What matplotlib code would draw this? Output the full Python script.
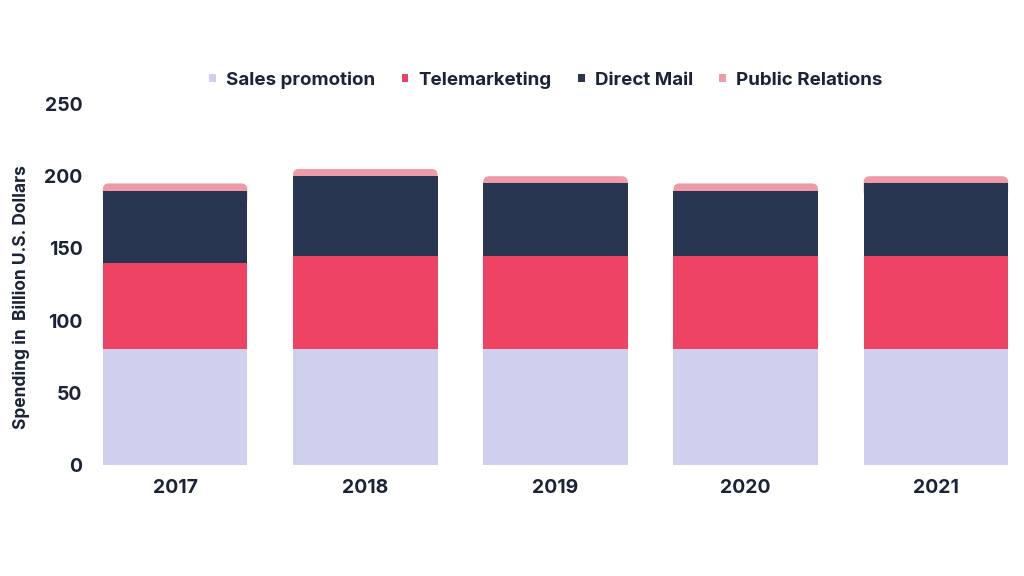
import matplotlib.pyplot as plt
from matplotlib.patches import FancyBboxPatch, Patch
import numpy as np

plt.rcParams['font.family'] = ['Inter', 'DejaVu Sans']

years = ['2017', '2018', '2019', '2020', '2021']
sales_promotion = [80, 80, 80, 80, 80]
telemarketing = [60, 65, 65, 65, 65]
direct_mail = [50, 55, 50, 45, 50]
public_relations = [5, 5, 5, 5, 5]

series = [
    ('Sales promotion', sales_promotion, '#cfcfee'),
    ('Telemarketing', telemarketing, '#ec4462'),
    ('Direct Mail', direct_mail, '#283651'),
    ('Public Relations', public_relations, '#ee9aa8'),
]
text_color = '#1b2338'

fig = plt.figure(figsize=(10.24, 5.76), dpi=100)
ax = fig.add_axes([99 / 1024, 1 - 465 / 576, (1012 - 99) / 1024, (465 - 104) / 576])

x = np.arange(len(years))
bottom = np.zeros(len(years))
bars = []
for name, vals, color in series:
    b = ax.bar(x, vals, width=0.76, bottom=bottom, color=color, label=name,
               linewidth=0, zorder=3)
    bars.append(b)
    bottom += np.array(vals)

ax.set_xlim(-0.4, 4.4)
ax.set_ylim(0, 250)

# round the top corners of the last segment: swap each rect for a rounded box
# that reaches down behind the segment below
ppx = ax.get_window_extent().width / 4.8
ppy = ax.get_window_extent().height / 250
for rect in bars[-1]:
    rect.set_visible(False)
    ext = 10
    box = FancyBboxPatch((rect.get_x(), rect.get_y() - ext), rect.get_width(),
                         rect.get_height() + ext,
                         boxstyle='round,pad=0,rounding_size=%f' % (6 / ppx),
                         mutation_aspect=ppx / ppy,
                         facecolor=rect.get_facecolor(), linewidth=0, zorder=2)
    ax.add_patch(box)

ax.set_yticks([0, 50, 100, 150, 200, 250])
ax.set_xticks(x)
ax.set_xticklabels(years)
for s in ax.spines.values():
    s.set_visible(False)
ax.tick_params(axis='both', length=0, labelsize=14, labelcolor=text_color)
ax.tick_params(axis='y', pad=12)
ax.tick_params(axis='x', pad=10)
for lbl in ax.get_xticklabels() + ax.get_yticklabels():
    lbl.set_fontweight('bold')

fig.text(0.021, 1 - 297 / 576, 'Spending in  Billion U.S. Dollars', rotation=90,
         ha='center', va='center', fontsize=12.5, fontweight='bold', color=text_color)

proxies = [Patch(facecolor=c, linewidth=0) for _, _, c in series]
leg = fig.legend(proxies, [n for n, _, _ in series], loc='center',
                 bbox_to_anchor=(546 / 1024, 1 - 80 / 576),
                 ncol=4, frameon=False, fontsize=13.5, handlelength=0.35, handleheight=0.35,
                 handletextpad=0.55, columnspacing=1.4)
for t in leg.get_texts():
    t.set_fontweight('bold')
    t.set_color(text_color)

fig.savefig('out.png', dpi=100)
